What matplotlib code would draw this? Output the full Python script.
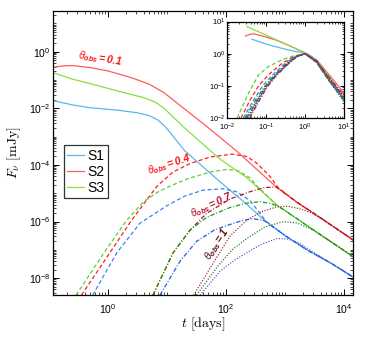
import matplotlib
matplotlib.use('Agg')
import matplotlib.pyplot as plt
import numpy as np
from matplotlib.ticker import LogLocator, NullFormatter

plt.rcParams['font.family'] = 'Liberation Sans'
plt.rcParams['mathtext.fontset'] = 'custom'
plt.rcParams['mathtext.rm'] = 'Liberation Sans'
plt.rcParams['mathtext.it'] = 'Liberation Sans:italic'
plt.rcParams['mathtext.bf'] = 'Liberation Sans:italic:bold'

# values, stored as log10(t [days]) and log10(F [mJy])
# on-axis (theta_obs = 0.1), solid
s1_t = [-0.93, -0.6, -0.3, 0.15, 0.5, 0.7, 0.85, 0.97, 1.1, 1.3, 1.6, 1.9, 2.07, 2.3, 2.46, 2.63, 3.0, 3.37, 3.8, 4.15]
s1_f = [-1.73, -1.88, -1.98, -2.06, -2.16, -2.26, -2.42, -2.65, -2.98, -3.5, -4.05, -4.6, -4.9, -5.3, -5.6, -5.93, -6.5, -7.0, -7.5, -7.96]
s2_t = [-0.93, -0.75, -0.6, -0.3, 0.0, 0.4, 0.7, 0.95, 1.1, 1.27, 1.6, 1.9, 2.2, 2.5, 2.85, 3.2, 3.55, 4.15]
s2_f = [-0.55, -0.5, -0.49, -0.56, -0.68, -0.92, -1.15, -1.45, -1.7, -1.98, -2.52, -3.03, -3.55, -4.12, -4.78, -5.32, -5.8, -6.65]
s3_t = [-0.93, -0.6, -0.3, 0.15, 0.6, 0.8, 0.95, 1.1, 1.3, 1.6, 1.9, 2.35, 2.86, 3.2, 3.48, 4.15]
s3_f = [-0.74, -0.97, -1.13, -1.38, -1.62, -1.78, -2.0, -2.3, -2.7, -3.25, -3.8, -4.45, -5.42, -5.9, -6.3, -7.24]

# theta_obs = 0.4, dashed
d2_t = [-0.45, 0.0, 0.4, 0.83, 1.1, 1.39, 1.73, 2.1, 2.35, 2.52, 2.75, 2.88, 3.2, 3.55, 4.15]
d2_f = [-8.6, -7.2, -5.95, -4.75, -4.25, -3.95, -3.72, -3.62, -3.7, -3.94, -4.42, -4.8, -5.32, -5.8, -6.65]
d3_t = [-0.54, -0.1, 0.3, 0.6, 0.85, 1.05, 1.33, 1.73, 2.0, 2.2, 2.4, 2.55, 2.86, 3.2, 3.48, 4.15]
d3_f = [-8.6, -7.2, -6.0, -5.3, -4.95, -4.75, -4.5, -4.25, -4.16, -4.2, -4.45, -4.8, -5.42, -5.9, -6.3, -7.24]
d1_t = [-0.26, 0.15, 0.54, 0.99, 1.3, 1.61, 1.95, 2.18, 2.4, 2.55, 2.68, 3.0, 3.37, 3.8, 4.15]
d1_f = [-8.6, -7.1, -6.06, -5.45, -5.1, -4.89, -4.84, -4.95, -5.25, -5.65, -6.0, -6.5, -7.0, -7.5, -7.96]

# theta_obs = 0.7, dash-dot
c2_t = [0.76, 1.1, 1.39, 1.67, 2.07, 2.4, 2.65, 2.85, 3.2, 3.55, 4.15]
c2_f = [-8.6, -7.11, -6.3, -5.71, -5.2, -4.95, -4.8, -4.78, -5.32, -5.8, -6.65]
c3_t = [0.76, 1.1, 1.39, 1.67, 2.07, 2.35, 2.58, 2.75, 2.9, 3.2, 3.48, 4.15]
c3_f = [-8.6, -7.11, -6.3, -5.85, -5.5, -5.35, -5.3, -5.36, -5.48, -5.9, -6.3, -7.24]
c1_t = [0.88, 1.22, 1.5, 1.8, 2.07, 2.3, 2.46, 2.65, 2.75, 3.0, 3.37, 3.8, 4.15]
c1_f = [-8.6, -7.4, -6.7, -6.3, -6.1, -5.95, -5.9, -5.97, -6.12, -6.5, -7.0, -7.5, -7.96]

# theta_obs = 1, dotted
p2_t = [1.45, 1.8, 2.07, 2.35, 2.6, 2.86, 3.05, 3.25, 3.45, 3.6, 4.15]
p2_f = [-8.6, -7.4, -6.5, -5.95, -5.65, -5.48, -5.46, -5.55, -5.7, -5.88, -6.65]
p3_t = [1.5, 1.85, 2.1, 2.35, 2.65, 2.97, 3.2, 3.48, 4.15]
p3_f = [-8.6, -7.6, -7.0, -6.6, -6.2, -6.0, -6.05, -6.3, -7.24]
p1_t = [1.56, 1.9, 2.15, 2.35, 2.6, 2.86, 3.05, 3.25, 3.45, 3.8, 4.15]
p1_f = [-8.6, -7.75, -7.35, -7.1, -6.8, -6.6, -6.62, -6.77, -7.05, -7.5, -7.96]

# inset: log10(t/t_peak), log10(F/F_peak)
in_s1_x = [-1.36, -1.0, -0.76, -0.5, -0.25, 0.0, 0.17, 0.4, 0.7, 1.0]
in_s1_y = [0.45, 0.3, 0.22, 0.14, 0.07, 0.02, -0.09, -0.35, -0.85, -1.42]
in_s2_x = [-1.53, -1.42, -1.32, -1.0, -0.76, -0.4, -0.08, 0.05, 0.3, 0.51, 0.75, 1.0]
in_s2_y = [0.55, 0.6, 0.62, 0.52, 0.43, 0.25, 0.07, 0.0, -0.2, -0.5, -0.85, -1.23]
in_s3_x = [-1.49, -1.0, -0.5, 0.0, 0.3, 0.6, 1.0]
in_s3_y = [0.84, 0.58, 0.3, 0.02, -0.22, -0.68, -1.45]

in_d3_x = [-1.74, -1.45, -1.19, -0.94, -0.59, -0.3, 0.0, 0.3, 0.6, 1.0]
in_d3_y = [-2.0, -1.23, -0.66, -0.4, -0.19, -0.07, 0.0, -0.26, -0.78, -1.4]
in_d2_x = [-1.64, -1.4, -1.19, -0.94, -0.59, -0.3, 0.0, 0.3, 0.6, 1.0]
in_d2_y = [-2.0, -1.42, -1.0, -0.66, -0.3, -0.1, 0.0, -0.28, -0.82, -1.45]
in_d1_x = [-1.58, -1.35, -1.1, -0.85, -0.55, -0.3, 0.0, 0.3, 0.6, 1.0]
in_d1_y = [-2.0, -1.5, -1.02, -0.68, -0.34, -0.12, 0.0, -0.24, -0.8, -1.42]
in_c3_x = [-1.54, -1.3, -1.05, -0.8, -0.5, -0.25, 0.0, 0.3, 0.6, 1.0]
in_c3_y = [-2.0, -1.5, -1.04, -0.68, -0.33, -0.1, 0.0, -0.27, -0.8, -1.45]
in_c1_x = [-1.5, -1.28, -1.02, -0.78, -0.48, -0.24, 0.0, 0.3, 0.6, 1.0]
in_c1_y = [-2.0, -1.55, -1.06, -0.7, -0.34, -0.1, 0.0, -0.22, -0.75, -1.38]
in_c2_x = [-1.42, -1.2, -0.98, -0.75, -0.45, -0.22, 0.0, 0.3, 0.6, 1.0]
in_c2_y = [-2.0, -1.52, -1.05, -0.7, -0.34, -0.1, 0.0, -0.24, -0.72, -1.3]
in_p2_x = [-1.48, -1.25, -1.0, -0.75, -0.45, -0.2, 0.0, 0.3, 0.6, 1.0]
in_p2_y = [-2.0, -1.5, -1.0, -0.65, -0.3, -0.08, 0.0, -0.25, -0.74, -1.35]
in_p3_x = [-1.46, -1.22, -0.98, -0.72, -0.42, -0.2, 0.0, 0.3, 0.6, 1.0]
in_p3_y = [-2.0, -1.5, -1.0, -0.64, -0.3, -0.08, 0.0, -0.28, -0.82, -1.5]
in_p1_x = [-1.44, -1.2, -0.96, -0.7, -0.4, -0.2, 0.0, 0.3, 0.6, 1.0]
in_p1_y = [-2.0, -1.48, -0.98, -0.62, -0.28, -0.08, 0.0, -0.26, -0.8, -1.48]

legend_labels = ['S1', 'S2', 'S3']

# colours
c_s1, c_s2, c_s3 = '#5ab8ea', '#ff5c5c', '#86e040'
c_d1, c_d2, c_d3 = '#3d82f0', '#ff1e1e', '#5ccf3a'
c_c1, c_c2, c_c3 = '#1a5ee8', '#b3142e', '#12a012'
c_p1, c_p2, c_p3 = '#5a55c0', '#8a2a2a', '#2a6e2a'

DASH = (3.2, 2.0)
DASHDOT = (3.5, 1.5, 0.8, 1.5)
DOT = (0.9, 1.3)


def lg(a):
    return 10.0 ** np.asarray(a)


def style_log_axes(a, size, major, minor):
    a.tick_params(which='both', direction='in', top=True, right=True, labelsize=size)
    a.tick_params(which='major', length=major, width=0.7)
    a.tick_params(which='minor', length=minor, width=0.5)
    for s in a.spines.values():
        s.set_linewidth(0.9)


fig = plt.figure(figsize=(3.74, 3.42), dpi=100)
ax = fig.add_axes([0.142, 0.137, 0.802, 0.831])

lw = 0.9
ax.plot(lg(s1_t), lg(s1_f), color=c_s1, lw=lw, label=legend_labels[0])
ax.plot(lg(s2_t), lg(s2_f), color=c_s2, lw=lw, label=legend_labels[1])
ax.plot(lg(s3_t), lg(s3_f), color=c_s3, lw=lw, label=legend_labels[2])

for t, f, c in [(d2_t, d2_f, c_d2), (d3_t, d3_f, c_d3), (d1_t, d1_f, c_d1)]:
    ax.plot(lg(t), lg(f), color=c, lw=lw, dashes=DASH)
for t, f, c in [(c2_t, c2_f, c_c2), (c3_t, c3_f, c_c3), (c1_t, c1_f, c_c1)]:
    ax.plot(lg(t), lg(f), color=c, lw=lw, dashes=DASHDOT)
for t, f, c in [(p2_t, p2_f, c_p2), (p3_t, p3_f, c_p3), (p1_t, p1_f, c_p1)]:
    ax.plot(lg(t), lg(f), color=c, lw=lw, dashes=DOT)

ax.set_xscale('log')
ax.set_yscale('log')
ax.set_xlim(10 ** -0.93, 10 ** 4.15)
ax.set_ylim(10 ** -8.6, 10 ** 1.44)
ax.set_xticks([1e0, 1e2, 1e4])
ax.set_yticks([1e-8, 1e-6, 1e-4, 1e-2, 1e0])
ax.xaxis.set_minor_locator(LogLocator(base=10, subs=np.arange(1, 10), numticks=30))
ax.yaxis.set_minor_locator(LogLocator(base=10, subs=np.arange(1, 10), numticks=30))
ax.xaxis.set_minor_formatter(NullFormatter())
ax.yaxis.set_minor_formatter(NullFormatter())
style_log_axes(ax, 7.5, 4, 2)
ax.tick_params(axis='x', pad=5)
ax.tick_params(axis='y', pad=2)

ax.set_xlabel(r'$t\ [\mathrm{days}]$', fontsize=10, math_fontfamily='cm', labelpad=0)
ax.set_ylabel(r'$F_\nu\ [\mathrm{mJy}]$', fontsize=10, math_fontfamily='cm', labelpad=4)

leg = ax.legend(loc='upper left', bbox_to_anchor=(0.035, 0.527), fontsize=10,
                frameon=True, fancybox=False, edgecolor='#333333', framealpha=1,
                handlelength=1.25, handletextpad=0.2, borderpad=0.25,
                labelspacing=0.15, borderaxespad=0)
leg.get_frame().set_linewidth(0.9)

lab = dict(fontsize=7.5, ha='center', va='center', rotation_mode='anchor')
ax.text(0.72, 0.55, r'$\theta_{\mathbf{obs}}\mathbf{=0.1}$', color='#ff1010', rotation=-9, **lab)
ax.text(11, 1.0e-4, r'$\theta_{\mathbf{obs}}\mathbf{=0.4}$', color='#ff1010', rotation=18, **lab)
ax.text(56, 3.8e-6, r'$\theta_{\mathbf{obs}}\mathbf{=0.7}$', color='#b3142e', rotation=25, **lab)
ax.text(70, 1.6e-7, r'$\theta_{\mathbf{obs}}\mathbf{=1}$', color='#6a0a0a', rotation=57, **lab)

# inset
axi = fig.add_axes([0.607, 0.655, 0.313, 0.282])
axi.plot(lg(in_s1_x), lg(in_s1_y), color=c_s1, lw=lw)
axi.plot(lg(in_s2_x), lg(in_s2_y), color=c_s2, lw=lw)
axi.plot(lg(in_s3_x), lg(in_s3_y), color=c_s3, lw=lw)
for x, y, c in [(in_d3_x, in_d3_y, c_d3), (in_d2_x, in_d2_y, c_d2), (in_d1_x, in_d1_y, c_d1)]:
    axi.plot(lg(x), lg(y), color=c, lw=lw, dashes=DASH)
for x, y, c in [(in_c3_x, in_c3_y, c_c3), (in_c1_x, in_c1_y, c_c1), (in_c2_x, in_c2_y, c_c2)]:
    axi.plot(lg(x), lg(y), color=c, lw=lw, dashes=DASHDOT)
for x, y, c in [(in_p2_x, in_p2_y, c_p2), (in_p3_x, in_p3_y, c_p3), (in_p1_x, in_p1_y, c_p1)]:
    axi.plot(lg(x), lg(y), color=c, lw=lw, dashes=DOT)
axi.set_xscale('log')
axi.set_yscale('log')
axi.set_xlim(1e-2, 1e1)
axi.set_ylim(1e-2, 1e1)
axi.set_xticks([1e-2, 1e-1, 1e0, 1e1])
axi.set_yticks([1e-2, 1e-1, 1e0, 1e1])
axi.xaxis.set_minor_locator(LogLocator(base=10, subs=np.arange(2, 10), numticks=30))
axi.yaxis.set_minor_locator(LogLocator(base=10, subs=np.arange(2, 10), numticks=30))
axi.xaxis.set_minor_formatter(NullFormatter())
axi.yaxis.set_minor_formatter(NullFormatter())
style_log_axes(axi, 5.5, 3, 1.5)
axi.tick_params(axis='x', pad=3)
axi.tick_params(axis='y', pad=1.5)

fig.savefig('out.png', dpi=100)
